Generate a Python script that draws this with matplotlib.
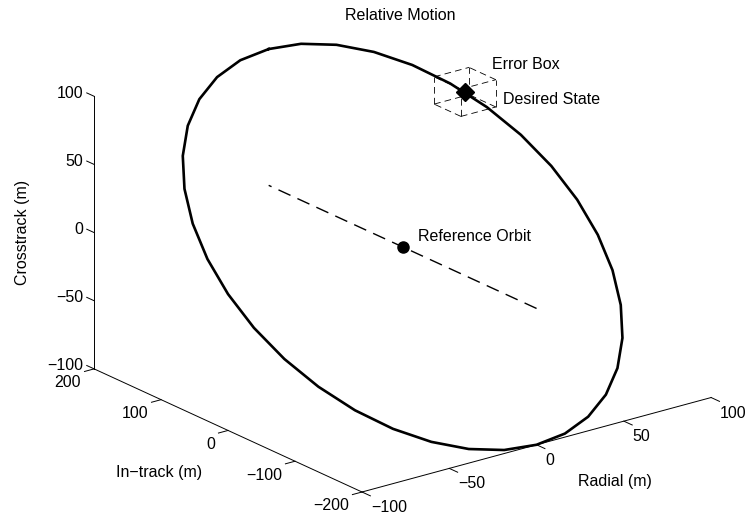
import itertools
import matplotlib
matplotlib.use('Agg')
import matplotlib.pyplot as plt
from mpl_toolkits.mplot3d import proj3d

plt.rcParams['font.family'] = ['Liberation Sans', 'DejaVu Sans']
FS = 11.5

# relative orbit samples (m)
radial = [0.0, 17.4, 34.2, 50.0, 64.3, 76.6, 86.6, 94.0, 98.5, 100.0,
          98.5, 94.0, 86.6, 76.6, 64.3, 50.0, 34.2, 17.4, 0.0,
          -17.4, -34.2, -50.0, -64.3, -76.6, -86.6, -94.0, -98.5, -100.0,
          -98.5, -94.0, -86.6, -76.6, -64.3, -50.0, -34.2, -17.4, 0.0]
intrack = [200.0, 197.0, 187.9, 173.2, 153.2, 128.6, 100.0, 68.4, 34.7, 0.0,
           -34.7, -68.4, -100.0, -128.6, -153.2, -173.2, -187.9, -197.0, -200.0,
           -197.0, -187.9, -173.2, -153.2, -128.6, -100.0, -68.4, -34.7, 0.0,
           34.7, 68.4, 100.0, 128.6, 153.2, 173.2, 187.9, 197.0, 200.0]
crosstrack = [100.0, 98.5, 94.0, 86.6, 76.6, 64.3, 50.0, 34.2, 17.4, 0.0,
              -17.4, -34.2, -50.0, -64.3, -76.6, -86.6, -94.0, -98.5, -100.0,
              -98.5, -94.0, -86.6, -76.6, -64.3, -50.0, -34.2, -17.4, 0.0,
              17.4, 34.2, 50.0, 64.3, 76.6, 86.6, 94.0, 98.5, 100.0]

reference_orbit = [0, 0, 0]
intrack_line = [-200, 200]
desired_state = [81, 118, 59]
box_half = [10, 20, 10]

radial_ticks = [-100, -50, 0, 50, 100]
intrack_ticks = [-200, -100, 0, 100, 200]
cross_ticks = [-100, -50, 0, 50, 100]

W, H = 747, 517
fig = plt.figure(figsize=(W / 100, H / 100), dpi=100)
S = 800
pos = [(W - S) / 2 / W, (H - S) / 2 / H, S / W, S / H]
ax = fig.add_axes(pos, projection='3d', proj_type='ortho')
ax.set_xlim(-100, 100)
ax.set_ylim(-200, 200)
ax.set_zlim(-100, 100)
ax.view_init(elev=20.65, azim=-127.5)
ax.set_axis_off()

# orbit, in-track line, markers
ax.plot(radial, intrack, crosstrack, color='k', lw=1.9, zorder=3)
ax.plot([0, 0], intrack_line, [0, 0], color='k', lw=1, ls=(0, (9.5, 5.5)), zorder=2)
ax.plot(*[[v] for v in reference_orbit], 'o', color='k', ms=8, zorder=5)
ax.plot(*[[v] for v in desired_state], 'D', color='k', ms=9, zorder=5)

# error box around desired state
cx, cy, cz = desired_state
hx, hy, hz = box_half
for a, b in itertools.combinations(itertools.product([-1, 1], repeat=3), 2):
    if sum(i != j for i, j in zip(a, b)) == 1:
        ax.plot([cx + a[0] * hx, cx + b[0] * hx],
                [cy + a[1] * hy, cy + b[1] * hy],
                [cz + a[2] * hz, cz + b[2] * hz],
                color='k', lw=0.6, ls=(0, (8, 5)), zorder=4)

# axis lines and ticks
axkw = dict(color='k', lw=0.7, zorder=1)
ax.plot([-100, 100], [-200, -200], [-100, -100], **axkw)
ax.plot([-100, -100], [-200, 200], [-100, -100], **axkw)
ax.plot([-100, -100], [200, 200], [-100, 100], **axkw)
for t in radial_ticks:
    ax.plot([t, t], [-200, -212.5], [-100, -100], **axkw)
for t in intrack_ticks:
    ax.plot([-100, -105.5], [t, t], [-100, -100], **axkw)
for t in cross_ticks:
    ax.plot([-100, -100], [200, 211], [t, t], **axkw)


def to_px(x, y, z):
    xs, ys, _ = proj3d.proj_transform(x, y, z, ax.get_proj())
    px, py = ax.transData.transform((xs, ys))
    return px, H - py


# scale and shift the box so its corners land where wanted
zoom = 1.0
for _ in range(2):
    ax.set_box_aspect((1, 1, 0.662), zoom=zoom)
    fig.canvas.draw()
    lx, _ = to_px(-100, 200, -100)
    rx, _ = to_px(100, -200, -100)
    zoom *= (709 - 92) / (rx - lx)
ax.set_box_aspect((1, 1, 0.662), zoom=zoom)
fig.canvas.draw()
fx, fy = to_px(-100, -200, -100)
pos[0] += (362 - fx) / W
pos[1] -= (492 - fy) / H
ax.set_position(pos)
fig.canvas.draw()


# text placed at a projected point plus a pixel offset (dy downward)
def label3d(x, y, z, s, dx, dy, **kw):
    px, py = to_px(x, y, z)
    fig.text((px + dx) / W, 1 - (py + dy) / H, s, fontsize=FS, **kw)


def fmt(v):
    return str(v).replace('-', '\u2212')


for t in radial_ticks:
    label3d(t, -200, -100, fmt(t), 9, 15.5, ha='left', va='center')
for t in intrack_ticks:
    label3d(-100, t, -100, fmt(t), -13, 14, ha='right', va='center')
for t in cross_ticks:
    label3d(-100, 200, t, fmt(t), -11, -3, ha='right', va='center')

label3d(0, -200, -100, 'Radial (m)', 78, 37, ha='center', va='center')
label3d(-100, 0, -100, 'In\u2212track (m)', -69, 42, ha='center', va='center')
label3d(-100, 200, 0, 'Crosstrack (m)', -72, 0, rotation=90, ha='center', va='center')

label3d(*reference_orbit, 'Reference Orbit', 15, -10, ha='left', va='center')
label3d(*desired_state, 'Error Box', 27, -27, ha='left', va='center')
label3d(*desired_state, 'Desired State', 38, 8, ha='left', va='center')

fig.text(400 / W, 1 - 16 / H, 'Relative Motion', ha='center', va='center', fontsize=FS)

fig.savefig('out.png', dpi=100)
